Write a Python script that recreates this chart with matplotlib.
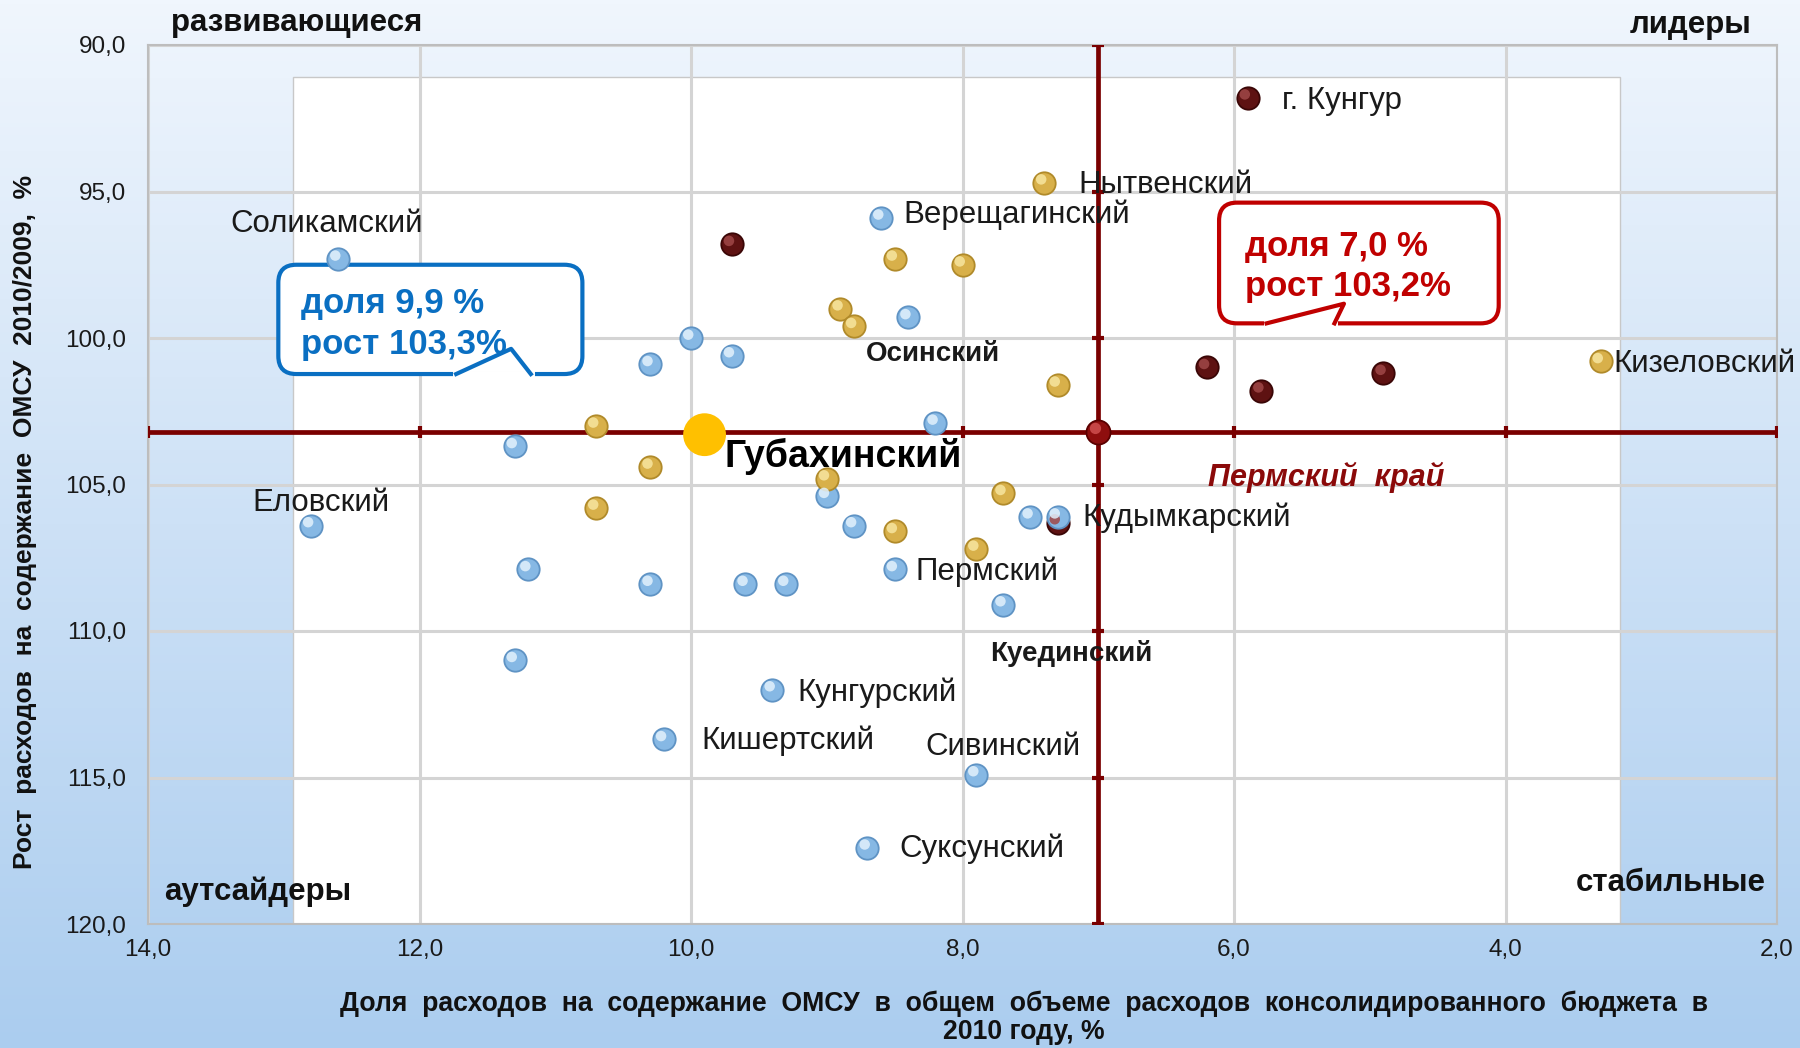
import numpy as np
import matplotlib
matplotlib.use('Agg')
import matplotlib.pyplot as plt
from matplotlib import font_manager
from matplotlib.patches import FancyBboxPatch, Rectangle
from matplotlib.lines import Line2D
from matplotlib.transforms import IdentityTransform, offset_copy
from matplotlib.colors import LinearSegmentedColormap

names = {f.name for f in font_manager.fontManager.ttflist}
FONT = 'Liberation Sans' if 'Liberation Sans' in names else 'DejaVu Sans'
plt.rcParams['font.family'] = [FONT, 'DejaVu Sans']

# --- данные (доля %, рост %) ---
blue_x = [12.6, 8.6, 10.0, 10.3, 9.7, 8.4, 8.2, 11.3, 9.0, 12.8, 8.8, 7.5, 7.3,
          11.2, 8.5, 10.3, 9.6, 9.3, 7.7, 11.3, 9.4, 10.2, 7.9, 8.7]
blue_y = [97.3, 95.9, 100.0, 100.9, 100.6, 99.3, 102.9, 103.7, 105.4, 106.4, 106.4, 106.1, 106.1,
          107.9, 107.9, 108.4, 108.4, 108.4, 109.1, 111.0, 112.0, 113.7, 114.9, 117.4]
gold_x = [7.4, 8.5, 8.0, 8.9, 8.8, 7.3, 10.7, 10.3, 10.7, 9.0, 7.7, 8.5, 7.9, 3.3]
gold_y = [94.7, 97.3, 97.5, 99.0, 99.6, 101.6, 103.0, 104.4, 105.8, 104.8, 105.3, 106.6, 107.2, 100.8]
red_x = [5.9, 9.7, 6.2, 5.8, 4.9, 7.3]
red_y = [91.8, 96.8, 101.0, 101.8, 101.2, 106.3]

krai_x, krai_y = 7.0, 103.2      # Пермский край
gub_x, gub_y = 9.9, 103.3        # Губахинский

label_names = ['Соликамский', 'Верещагинский', 'г. Кунгур', 'Нытвенский', 'Кизеловский',
               'Еловский', 'Кудымкарский', 'Пермский', 'Кунгурский', 'Кишертский',
               'Сивинский', 'Суксунский']
label_x = [12.6, 8.6, 5.9, 7.4, 3.3, 12.8, 7.3, 8.5, 9.4, 10.2, 7.9, 8.7]
label_y = [97.3, 95.9, 91.8, 94.7, 100.8, 106.4, 106.1, 107.9, 112.0, 113.7, 114.9, 117.4]
bold_names = ['Осинский', 'Куединский']
bold_x = [8.4, 7.7]
bold_y = [99.3, 109.1]

x_ticks = np.arange(14, 1, -2)
y_ticks = np.arange(90, 121, 5)

# смещения подписей (пункты) и выравнивание
label_off = [(-8, 25, 'center'), (16, 2, 'left'), (25, -2, 'left'), (25, -2, 'left'),
             (9, -2, 'left'), (7, 16, 'center'), (18, -1, 'left'), (15, -2, 'left'),
             (18, -2, 'left'), (27, -1, 'left'), (19, 20, 'center'), (23, -1, 'left')]
bold_off = [(18, -26), (49, -35)]

W, H = 1800, 1048
fig = plt.figure(figsize=(W / 100, H / 100), dpi=100)

# фон - градиент
bg = fig.add_axes([0, 0, 1, 1], zorder=-1)
cmap = LinearSegmentedColormap.from_list('bg', ['#abcdef', '#cde1f6', '#f0f6fd'])
bg.imshow(np.linspace(0, 1, 256).reshape(-1, 1), aspect='auto', cmap=cmap,
          extent=[0, 1, 0, 1], origin='lower')
bg.axis('off')

ax = fig.add_axes([148 / W, 1 - 924 / H, (1777 - 148) / W, (924 - 45) / H])
ax.patch.set_alpha(0)
ax.set_xlim(14, 2)
ax.set_ylim(120, 90)
ax.set_xticks(x_ticks)
ax.set_yticks(y_ticks)
fmt = matplotlib.ticker.FuncFormatter(lambda v, p: f'{v:.1f}'.replace('.', ','))
ax.xaxis.set_major_formatter(fmt)
ax.yaxis.set_major_formatter(fmt)
ax.tick_params(length=0, labelsize=17.5, colors='#1a1a1a')
ax.tick_params(axis='x', pad=11)
ax.tick_params(axis='y', pad=16)
ax.set_axisbelow(True)
ax.grid(True, color='#d4d4d4', lw=2.2)
for s in ax.spines.values():
    s.set_color('#bdbdbd')
    s.set_linewidth(1.5)

ax.add_patch(Rectangle((12.93, 91.1), 3.16 - 12.93, 120 - 91.1, fc='white', ec='#c8c8c8',
                       lw=1, zorder=0.2))

# перекрестие
crc = '#7a0000'
ax.plot(x_ticks, [krai_y] * len(x_ticks), color=crc, lw=3.4, marker='|', ms=9, mew=3, zorder=3)
ax.plot([krai_x] * len(y_ticks), y_ticks, color=crc, lw=3.4, marker='_', ms=9, mew=3, zorder=3)

hi_tr = offset_copy(ax.transData, fig=fig, x=-2, y=2.4, units='points')


def spheres(x, y, base, edge, hi, s=260, z=4):
    ax.scatter(x, y, s=s, c=base, edgecolors=edge, linewidths=1.3, zorder=z)
    ax.scatter(x, y, s=s * 0.22, c=hi, edgecolors='none', alpha=0.85, zorder=z + 0.1,
               transform=hi_tr)


spheres(red_x, red_y, '#5e1212', '#3a0606', '#a04848')
spheres(blue_x, blue_y, '#86b8e4', '#5f93c4', '#e2f1fc')
spheres(gold_x, gold_y, '#d8b04a', '#b08a2a', '#f7e6a0')
spheres([krai_x], [krai_y], '#8e0e0e', '#5a0000', '#d05050', s=300, z=5)
ax.scatter([gub_x], [gub_y], s=950, c='#ffc000', edgecolors='none', zorder=5)

for n, x, y, (dx, dy, ha) in zip(label_names, label_x, label_y, label_off):
    ax.annotate(n, (x, y), xytext=(dx, dy), textcoords='offset points', ha=ha, va='center',
                fontsize=22.5, color='#1a1a1a', zorder=6)
for n, x, y, (dx, dy) in zip(bold_names, bold_x, bold_y, bold_off):
    ax.annotate(n, (x, y), xytext=(dx, dy), textcoords='offset points', ha='center', va='center',
                fontsize=20, fontweight='bold', color='#1a1a1a', zorder=6)
ax.annotate('Губахинский', (gub_x, gub_y), xytext=(14, -16), textcoords='offset points',
            ha='left', va='center', fontsize=27, fontweight='bold', color='black', zorder=6)
ax.text(5.32, 104.75, 'Пермский  край', ha='center', va='center', fontsize=22,
        fontweight='bold', style='italic', color='#8b0a0a', zorder=6)


def callout(x0, y0, x1, y1, gx0, gx1, tx, ty, color):
    p0 = ax.transData.transform((x0, y0))
    p1 = ax.transData.transform((x1, y1))
    l, b = min(p0[0], p1[0]), min(p0[1], p1[1])
    w, h = abs(p1[0] - p0[0]), abs(p1[1] - p0[1])
    ax.add_patch(FancyBboxPatch((l, b), w, h, boxstyle='round,pad=0,rounding_size=18',
                                transform=IdentityTransform(), fc='white', ec=color, lw=3,
                                clip_on=False, zorder=3.5))
    g0 = ax.transData.transform((gx0, y1))[0]
    g1 = ax.transData.transform((gx1, y1))[0]
    tp = ax.transData.transform((tx, ty))
    ax.add_line(Line2D([g0, g1], [b, b], color='white', lw=5, transform=IdentityTransform(),
                       clip_on=False, zorder=3.6))
    ax.add_line(Line2D([g0, tp[0], g1], [b, tp[1], b], color=color, lw=3,
                       transform=IdentityTransform(), clip_on=False, zorder=3.7))


callout(13.04, 97.5, 10.80, 101.23, 11.73, 11.18, 11.325, 100.37, '#0a6fc2')
callout(6.11, 95.38, 4.05, 99.50, 5.76, 5.26, 5.19, 98.83, '#c00000')
ax.text(12.87, 99.52, 'доля 9,9 %\nрост 103,3%', color='#0a6fc2', fontsize=25, fontweight='bold',
        ha='left', va='center', linespacing=1.3, zorder=6)
ax.text(5.92, 97.56, 'доля 7,0 %\nрост 103,2%', color='#c00000', fontsize=25, fontweight='bold',
        ha='left', va='center', linespacing=1.3, zorder=6)

# подписи квадрантов
qkw = dict(fontsize=22.5, fontweight='bold', color='#111111', ha='center', va='center')
fig.text(0.165, 0.978, 'развивающиеся', **qkw)
fig.text(0.939, 0.976, 'лидеры', **qkw)
fig.text(0.143, 0.149, 'аутсайдеры', **qkw)
fig.text(0.928, 0.157, 'стабильные', **qkw)

fig.text(0.014, 0.502, 'Рост  расходов  на  содержание  ОМСУ  2010/2009,  %', rotation=90,
         ha='center', va='center', fontsize=19, fontweight='bold', color='#111111')
fig.text(0.569, 0.029, 'Доля  расходов  на  содержание  ОМСУ  в  общем  объеме  расходов  '
         'консолидированного  бюджета  в\n2010 году, %', ha='center', va='center',
         multialignment='center', fontsize=19.2, fontweight='bold', color='#111111', linespacing=1.1)

fig.savefig('out.png', dpi=100)
